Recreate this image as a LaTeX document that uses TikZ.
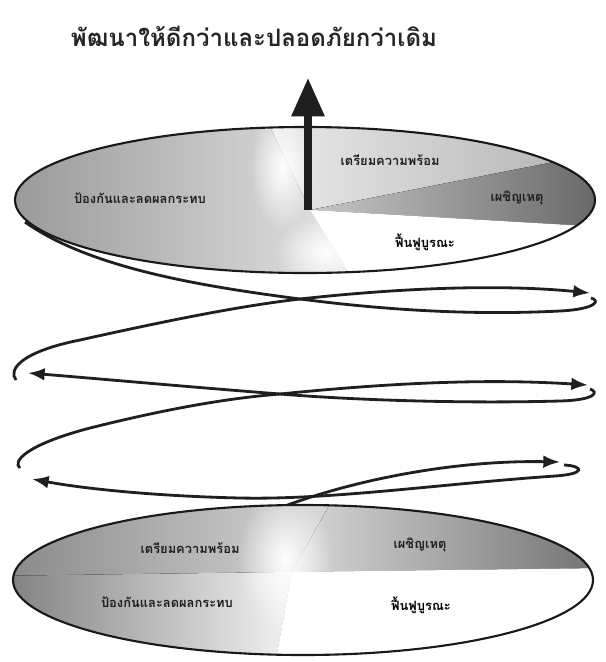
\documentclass[tikz,border=0pt]{standalone}
\usepackage{fontspec}
\newfontfamily\thaifont[Script=Thai]{Loma}
\usetikzlibrary{arrows.meta, fadings}
\tikzfading[name=glow, inner color=transparent!0, outer color=transparent!100]

\begin{document}
\begin{tikzpicture}[x=0.03cm, y=-0.03cm,
        % styles for the discs, the texts and the spiral
        rim/.style={draw=black!90, line width=1.8pt},
        sectortext/.style={font=\thaifont\bfseries\fontsize{11}{13}\selectfont, text=black!88, inner sep=1pt},
        spiral/.style={draw=black!88, line width=2.4pt, -{Latex[length=0.5cm, width=0.38cm]}},
        uparrow/.style={draw=black!88, line width=6pt, -{Triangle[length=1.15cm, width=0.95cm]}}
    ]
        \useasboundingbox (0,0) rectangle (605,662);

        % --------------------------------------------------------
        % Title
        % --------------------------------------------------------
        \node[font=\thaifont\bfseries\fontsize{20.5}{24}\selectfont, text=black!85] (title) at (254,36) {พัฒนาให้ดีกว่าและปลอดภัยกว่าเดิม};

        % --------------------------------------------------------
        % Spiral between the two discs
        % --------------------------------------------------------
        \coordinate (s6a) at (285,506);
        \coordinate (r3) at (560,462);  \coordinate (r3h) at (564,465);
        \coordinate (l3) at (32,479);   \coordinate (l3h) at (20,468);
        \coordinate (r2) at (588,385);  \coordinate (r2h) at (590,389);
        \coordinate (l2) at (28,373);   \coordinate (l2h) at (16,380);
        \coordinate (r1) at (590,293);  \coordinate (r1h) at (591,298);
        \coordinate (t0) at (25,222);

        \draw[spiral] (s6a) .. controls (360,478) and (460,460) .. (r3);
        \draw[spiral] (r3h) .. controls (584,466) and (586,474) .. (555,476)
            .. controls (440,484) and (330,500) .. (240,498)
            .. controls (150,496) and (80,488) .. (l3);
        \draw[spiral] (l3h) .. controls (12,462) and (25,445) .. (90,428)
            .. controls (170,408) and (230,398) .. (280,394)
            .. controls (380,384) and (480,378) .. (r2);
        \draw[spiral] (r2h) .. controls (599,392) and (596,400) .. (560,401)
            .. controls (450,404) and (340,399) .. (280,394)
            .. controls (190,387) and (90,378) .. (l2);
        \draw[spiral] (l2h) .. controls (8,370) and (20,352) .. (80,340)
            .. controls (170,320) and (240,306) .. (300,299)
            .. controls (400,288) and (500,284) .. (r1);
        \draw[spiral, -] (r1h) .. controls (600,300) and (598,309) .. (560,311)
            .. controls (460,316) and (370,308) .. (300,299)
            .. controls (200,286) and (90,268) .. (t0);

        % --------------------------------------------------------
        % Top disc
        % --------------------------------------------------------
        \coordinate (tc) at (310,210);
        \begin{scope}
            \clip (305,200) ellipse [x radius=290, y radius=73];
            \fill[left color=black!42, right color=black!10] (tc) -- (262,110) -- (-10,110) -- (-10,290) -- (360,290) -- cycle;
            \fill[left color=black!8, right color=black!32] (tc) -- (262,110) -- (620,110) -- (620,149) -- cycle;
            \fill[left color=black!22, right color=black!62] (tc) -- (620,149) -- (620,228) -- cycle;
            \fill[white] (tc) -- (620,228) -- (620,290) -- (360,290) -- cycle;
            \fill[white, path fading=glow] (282,168) ellipse [x radius=32, y radius=62];
            \fill[white, path fading=glow] (325,252) ellipse [x radius=50, y radius=38];
        \end{scope}
        \draw[rim] (305,200) ellipse [x radius=290, y radius=73];

        \node[sectortext] (topprevent) at (140,198) {ป้องกันและลดผลกระทบ};
        \node[sectortext] (topprepare) at (390,160) {เตรียมความพร้อม};
        \node[sectortext] (topresponse) at (517,198) {เผชิญเหตุ};
        \node[sectortext, text=black] (toprecover) at (425,242) {ฟื้นฟูบูรณะ};

        \draw[uparrow] (308,210) -- (308,78);

        % --------------------------------------------------------
        % Bottom disc
        % --------------------------------------------------------
        \coordinate (bc) at (292,572);
        \begin{scope}
            \clip (303,580) ellipse [x radius=290, y radius=75];
            \fill[left color=black!48, right color=black!15] (bc) -- (335,495) -- (-10,495) -- (-10,576) -- cycle;
            \fill[left color=black!52, right color=black!5] (bc) -- (-10,576) -- (-10,665) -- (275,665) -- cycle;
            \fill[left color=black!15, right color=black!58] (bc) -- (335,495) -- (620,495) -- (620,568) -- cycle;
            \fill[white] (bc) -- (620,568) -- (620,665) -- (275,665) -- cycle;
            \fill[white, path fading=glow] (285,560) ellipse [x radius=48, y radius=72];
        \end{scope}
        \draw[rim] (303,580) ellipse [x radius=290, y radius=75];

        \node[sectortext] (botprepare) at (190,548) {เตรียมความพร้อม};
        \node[sectortext] (botprevent) at (167,602) {ป้องกันและลดผลกระทบ};
        \node[sectortext] (botresponse) at (420,545) {เผชิญเหตุ};
        \node[sectortext, text=black] (botrecover) at (421,605) {ฟื้นฟูบูรณะ};

\end{tikzpicture}
\end{document}
